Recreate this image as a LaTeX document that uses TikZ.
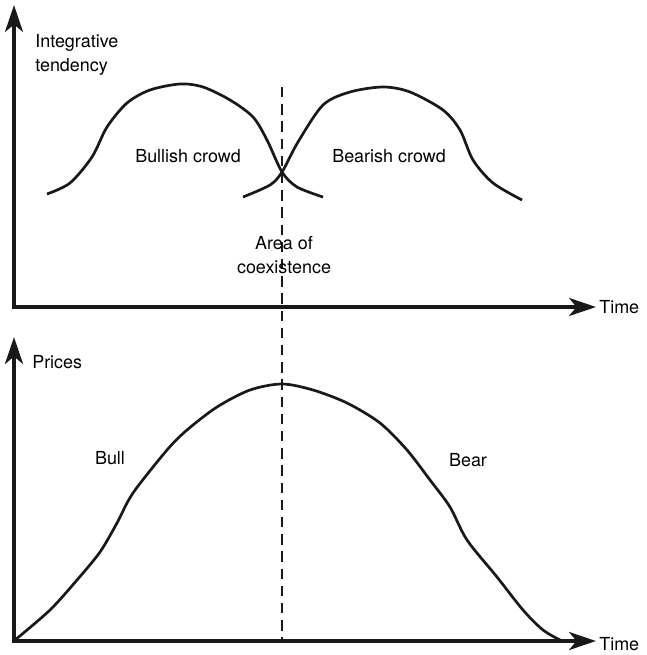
\documentclass[tikz,border=0pt]{standalone}
\usepackage{fontspec}
\setmainfont{TeX Gyre Heros}
\usetikzlibrary{arrows.meta}

\begin{document}
\begin{tikzpicture}[x=0.0235cm, y=-0.0235cm, font=\fontsize{12}{16}\selectfont,
	axis/.style={line width=2.6pt, line join=miter,
		{Stealth[length=18pt,width=12pt,inset=5pt]}-{Stealth[length=18pt,width=12pt,inset=5pt]}},
	curve/.style={line width=1.8pt, line join=round},
	label/.style={inner sep=0pt}]

% ---------- Parameters of the drawing ----------
% (0,0) = upper left corner, one unit = one pixel of the picture, y pointing down
\def\AxisX{14}            % x of both vertical axes
\def\AxisEnd{596}         % x of the tip of both time axes
\def\TopBase{307}         % y of the upper time axis
\def\TopTip{5}            % y of the tip of the upper vertical axis
\def\LowBase{641}         % y of the lower time axis
\def\LowTip{337}          % y of the tip of the lower vertical axis
\def\SplitX{282}          % x of the dashed line
\def\SplitTop{87}         % upper end of the dashed line

% ---------- Colours ----------
\colorlet{linecolor}{black!90}

\useasboundingbox (0,0) rectangle (646,655);

% ---------- Upper axes ----------
\coordinate (topY) at (\AxisX,\TopTip);
\coordinate (topO) at (\AxisX,\TopBase);
\coordinate (topX) at (\AxisEnd,\TopBase);
\draw[axis, linecolor] (topY) -- (topO) -- (topX);
\node[label, anchor=west, align=left] (tendency) at (35,55) {Integrative\\tendency};
\node[label, anchor=west] (timeTop) at (599,\TopBase) {Time};

% ---------- Lower axes ----------
\coordinate (lowY) at (\AxisX,\LowTip);
\coordinate (lowO) at (\AxisX,\LowBase);
\coordinate (lowX) at (\AxisEnd,\LowBase);
\draw[axis, linecolor] (lowY) -- (lowO) -- (lowX);
\node[label, anchor=west] (prices) at (32,362) {Prices};
\node[label, anchor=west] (timeLow) at (599,644) {Time};

% ---------- Dashed split line ----------
\coordinate (splitTop) at (\SplitX,\SplitTop);
\coordinate (splitLow) at (\SplitX,\LowBase);
\draw[linecolor, line width=1.1pt, dash pattern=on 7pt off 4.5pt] (splitTop) -- (splitLow);

% ---------- Crowds ----------
% Bullish crowd
\draw[curve, linecolor] plot[smooth] coordinates {
	(47,194) (70,183) (92,157) (107,127) (127,103) (150,90) (180,84) (203,87)
	(230,100) (253,117) (267,140) (282,172) (297,187) (323,197)};
% Bearish crowd
\draw[curve, linecolor] plot[smooth] coordinates {
	(243,197) (270,185) (282,172) (298,142) (323,105) (350,92) (383,87) (410,92)
	(443,110) (460,130) (473,160) (493,183) (522,200)};
\node[label] (bullish) at (188,156) {Bullish crowd};
\node[label] (bearish) at (389,156) {Bearish crowd};
\node[label, align=center] (overlap) at (284,255) {Area of\\coexistence};

% ---------- Prices ----------
\draw[curve, linecolor] plot[smooth] coordinates {
	(15,640) (50,610) (77,580) (100,552) (117,523) (133,493) (167,450) (187,430)
	(217,407) (250,390) (282,384) (313,390) (347,403) (380,423) (407,450)
	(430,480) (450,507) (467,540) (497,577) (523,610) (543,630) (562,641)};
\node[label] (bull) at (110,458) {Bull};
\node[label] (bear) at (468,460) {Bear};

\end{tikzpicture}
\end{document}
